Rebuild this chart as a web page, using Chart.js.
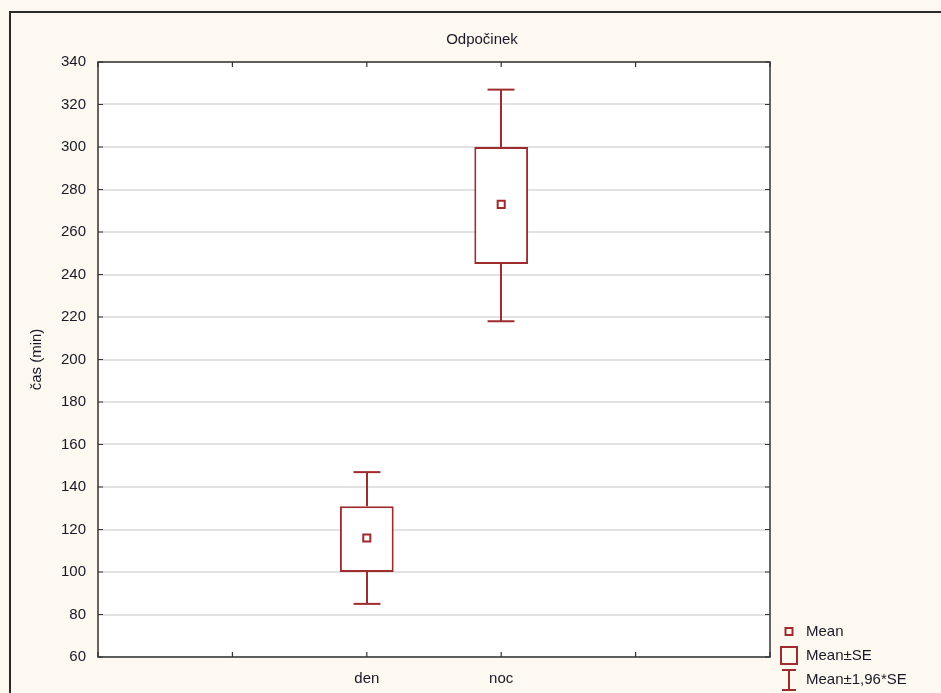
<!DOCTYPE html>
<html>
<head>
<meta charset="utf-8">
<title>Odpočinek</title>
<script src="https://cdn.jsdelivr.net/npm/chart.js@4/dist/chart.umd.min.js"></script>
<style>
    html, body { margin: 0; padding: 0; background: #fdf9f0; }
    #wrap { width: 941px; height: 693px; position: relative; }
</style>
</head>
<body>
<div id="wrap"><canvas id="chart"></canvas></div>
<script>
// data
const categories = ['den', 'noc'];
const xPositions = [2, 3];          // slots on the 0..5 x axis
const means = [116, 273];
const seLow = [100, 245];
const seHigh = [131, 300];
const ciLow = [85, 218];
const ciHigh = [147, 327];
const yTicks = { min: 60, max: 340, step: 20 };

const RED = '#9e2b2d';
const INK = '#181828';
const FONT = "'Liberation Sans', Arial, sans-serif";

// frame, white plot area, whiskers, inner tick marks, legend
const statPlugin = {
    id: 'statPlugin',
    beforeDraw(chart) {
        const { ctx, chartArea: a } = chart;
        ctx.save();
        ctx.fillStyle = '#fdf9f0';
        ctx.fillRect(0, 0, chart.width, chart.height);
        ctx.strokeStyle = '#2a2a2a';
        ctx.lineWidth = 2;
        ctx.beginPath();
        ctx.moveTo(10, chart.height + 5);
        ctx.lineTo(10, 12);
        ctx.lineTo(chart.width + 5, 12);
        ctx.stroke();
        ctx.fillStyle = '#ffffff';
        ctx.fillRect(a.left, a.top, a.right - a.left, a.bottom - a.top);
        // title
        ctx.fillStyle = INK;
        ctx.font = '15px ' + FONT;
        ctx.textAlign = 'center';
        ctx.textBaseline = 'middle';
        ctx.fillText('Odpočinek', 482, 40);
        ctx.restore();
    },
    afterDatasetsDraw(chart) {
        const { ctx, chartArea: a } = chart;
        const xs = chart.scales.x, ys = chart.scales.y;
        const capHalf = xs.getPixelForValue(1.1) - xs.getPixelForValue(1);
        ctx.save();
        ctx.strokeStyle = RED;
        ctx.lineWidth = 2;
        xPositions.forEach((xv, i) => {
            const x = Math.round(xs.getPixelForValue(xv));
            const seg = (y1, y2) => {
                ctx.beginPath();
                ctx.moveTo(x, ys.getPixelForValue(y1));
                ctx.lineTo(x, ys.getPixelForValue(y2));
                ctx.stroke();
            };
            const cap = (v) => {
                const y = ys.getPixelForValue(v);
                ctx.beginPath();
                ctx.moveTo(x - capHalf, y);
                ctx.lineTo(x + capHalf, y);
                ctx.stroke();
            };
            seg(seHigh[i], ciHigh[i]);
            seg(seLow[i], ciLow[i]);
            cap(ciHigh[i]);
            cap(ciLow[i]);
        });

        // frame
        ctx.strokeStyle = '#333333';
        ctx.lineWidth = 1.5;
        ctx.strokeRect(a.left, a.top, a.right - a.left, a.bottom - a.top);

        // inner tick marks
        ctx.lineWidth = 1.2;
        ctx.beginPath();
        ys.ticks.forEach((t) => {
            const y = ys.getPixelForValue(t.value);
            ctx.moveTo(a.left, y); ctx.lineTo(a.left + 5, y);
            ctx.moveTo(a.right, y); ctx.lineTo(a.right - 5, y);
        });
        xs.ticks.forEach((t) => {
            const x = xs.getPixelForValue(t.value);
            ctx.moveTo(x, a.top); ctx.lineTo(x, a.top + 5);
            ctx.moveTo(x, a.bottom); ctx.lineTo(x, a.bottom - 5);
        });
        ctx.stroke();

        // legend
        const lx = 789;
        ctx.strokeStyle = RED;
        ctx.lineWidth = 2;
        ctx.strokeRect(lx - 3.5, 628, 7, 7);
        ctx.strokeRect(lx - 8, 647, 16, 17);
        ctx.beginPath();
        ctx.moveTo(lx - 7, 670); ctx.lineTo(lx + 7, 670);
        ctx.moveTo(lx, 670); ctx.lineTo(lx, 690);
        ctx.moveTo(lx - 7, 690); ctx.lineTo(lx + 7, 690);
        ctx.stroke();
        ctx.fillStyle = INK;
        ctx.font = '15px ' + FONT;
        ctx.textAlign = 'left';
        ctx.textBaseline = 'middle';
        ctx.fillText('Mean', 806, 632);
        ctx.fillText('Mean±SE', 806, 656);
        ctx.fillText('Mean±1,96*SE', 806, 680);
        ctx.restore();
    }
};

new Chart(document.getElementById('chart'), {
    type: 'bar',
    data: {
        datasets: [{
            type: 'bar',
            label: 'Mean±SE',
            data: xPositions.map((x, i) => ({ x: x, y: [seLow[i], seHigh[i]] })),
            backgroundColor: '#ffffff',
            borderColor: RED,
            borderWidth: 2,
            borderSkipped: false,
            barPercentage: 0.5,
            categoryPercentage: 0.8,
            order: 2
        }, {
            type: 'scatter',
            label: 'Mean',
            data: xPositions.map((x, i) => ({ x: x, y: means[i] })),
            pointStyle: 'rect',
            radius: 5,
            backgroundColor: '#ffffff',
            borderColor: RED,
            borderWidth: 2,
            order: 1
        }]
    },
    options: {
        responsive: true,
        maintainAspectRatio: false,
        animation: false,
        layout: { padding: { top: 62, right: 171, bottom: 0, left: 0 } },
        plugins: {
            legend: { display: false },
            title: { display: false },
            tooltip: { enabled: false }
        },
        scales: {
            x: {
                type: 'linear',
                min: 0,
                max: 5,
                offset: false,
                grid: { display: false, drawTicks: false, offset: false },
                border: { display: false },
                ticks: {
                    stepSize: 1,
                    padding: 13,
                    color: INK,
                    font: { family: FONT, size: 15 },
                    callback: (v) => {
                        const i = xPositions.indexOf(v);
                        return i >= 0 ? categories[i] : '';
                    }
                },
                afterFit: (s) => { s.height = 36; }
            },
            y: {
                min: yTicks.min,
                max: yTicks.max,
                grid: { color: '#e2e2e2', lineWidth: 2, drawTicks: false },
                border: { display: false },
                ticks: {
                    stepSize: yTicks.step,
                    padding: 12,
                    color: INK,
                    font: { family: FONT, size: 15 }
                },
                title: {
                    display: true,
                    text: 'čas (min)',
                    color: INK,
                    font: { family: FONT, size: 15 },
                    padding: { top: 28, bottom: 0 }
                },
                afterFit: (s) => { s.width = 98; }
            }
        }
    },
    plugins: [statPlugin]
});
</script>
</body>
</html>
